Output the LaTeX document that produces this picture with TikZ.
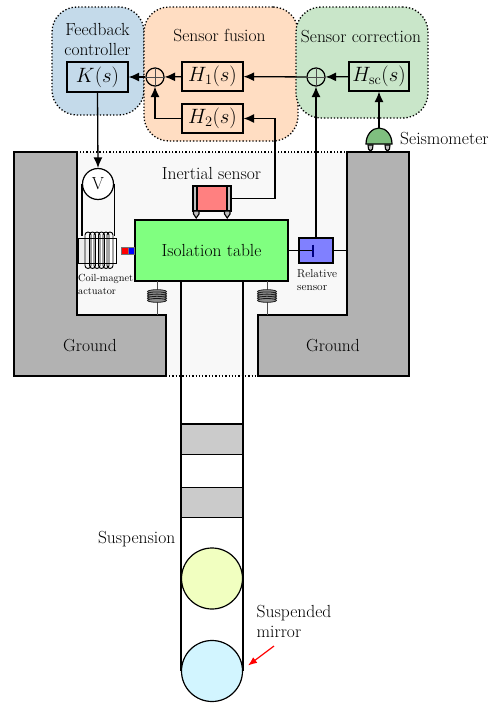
\documentclass[tikz,border=0pt]{standalone}
\usetikzlibrary{arrows.meta,shapes.geometric}
\definecolor{fbblue}{HTML}{C4DAEA}
\definecolor{fusorange}{HTML}{FFDDC2}
\definecolor{corgreen}{HTML}{C9E6C9}
\definecolor{groundgray}{HTML}{B2B2B2}
\definecolor{bggray}{HTML}{F8F8F8}
\definecolor{tablegreen}{HTML}{80FF80}
\definecolor{sensred}{HTML}{FF8080}
\definecolor{relblue}{HTML}{8080FF}
\definecolor{blockgray}{HTML}{CBCBCB}
\definecolor{stageyellow}{HTML}{F1FFC0}
\definecolor{mirrorblue}{HTML}{D2F5FF}
\definecolor{seisgreen}{HTML}{7FBF7F}
\tikzset{
  region/.style={draw=black,line width=1.3pt,dotted,rounded corners=25pt,inner sep=0pt},
  block/.style={draw=black,line width=1.2pt,inner sep=0pt,minimum height=30pt,font=\fontsize{22.5}{25}\selectfont},
  sumc/.style={circle,draw=black,line width=1.2pt,minimum size=18pt,inner sep=0pt},
  conn/.style={line width=1.3pt,-{Latex[length=10.5pt,width=9pt]}},
  wire/.style={line width=1.2pt},
  label/.style={font=\fontsize{17.5}{20}\selectfont,align=center,inner sep=0pt,text=black},
  tiny/.style={font=\fontsize{11.4}{13}\selectfont,align=left,inner sep=0pt,text=black},
  solidbox/.style={draw=black,line width=1.2pt,inner sep=0pt},
  springloop/.style={draw=black!90,line width=.8pt}
}
\newcommand{\spring}[2]{%
  \foreach \dy in {0,2.2,4.4,6.6,8.8}{\draw[springloop,fill=black!45] (#1,#2-4.4+\dy) ellipse (9.5pt and 1.9pt);}}
\begin{document}
\begin{tikzpicture}[x=1pt,y=-1pt]
\useasboundingbox (0,0) rectangle (490,704);
% plant background
\node[draw=black,line width=1.3pt,dotted,fill=bggray,minimum width=395pt,minimum height=224pt,inner sep=0pt] (bg) at (211.5,264) {};
% ground
\draw[fill=groundgray,line width=1.2pt] (14,152) -- (77,152) -- (77,315) -- (166,315) -- (166,376) -- (14,376) -- cycle;
\draw[fill=groundgray,line width=1.2pt] (347,152) -- (409,152) -- (409,376) -- (258,376) -- (258,315) -- (347,315) -- cycle;
\node[label] (g1) at (90,346) {Ground};
\node[label] (g2) at (333,346) {Ground};
% regions
\node[region,fill=fbblue,minimum width=92pt,minimum height=108pt] (rfb) at (98,61) {};
\node[region,fill=fusorange,minimum width=154pt,minimum height=134pt] (rfus) at (221,74) {};
\node[region,fill=corgreen,minimum width=132pt,minimum height=111pt] (rcor) at (362,62.5) {};
\node[label] (tfb) at (97.5,39) {Feedback\\controller};
\node[label] (tfus) at (219.5,35.5) {Sensor fusion};
\node[label] (tcor) at (361,37) {Sensor correction};
% blocks
\node[block,minimum width=61pt,fill=fbblue] (K) at (97.5,77) {$K(s)$};
\node[sumc] (s1) at (155,77) {};
\draw[line width=.6pt,black!70] (s1.west) -- (s1.east) (s1.north) -- (s1.south);
\node[block,minimum width=61pt,minimum height=29pt] (H1) at (212.5,76.5) {$H_1(s)$};
\node[block,minimum width=61pt,minimum height=29pt] (H2) at (212.5,118.5) {$H_2(s)$};
\node[sumc] (s2) at (316,77) {};
\draw[line width=.6pt,black!70] (s2.west) -- (s2.east) (s2.north) -- (s2.south);
\node[block,minimum width=60pt,minimum height=29pt] (Hsc) at (379,76.5) {$H_{\mathrm{sc}}(s)$};
% table and hardware
\node[draw=black,line width=1.2pt,fill=tablegreen,minimum width=153pt,minimum height=61pt,inner sep=0pt,font=\fontsize{17.5}{20}\selectfont] (table) at (211.5,250.5) {Isolation table};
\node[solidbox,fill=relblue,minimum width=34pt,minimum height=25pt] (rel) at (316,250.5) {};
\coordinate (bar) at (313,250.5);
\draw[wire] (table.east |- bar) -- (bar);
\draw[line width=1.2pt,blue!50!black] (bar) ++(0,-6) -- ++(0,12);
\draw[wire] (rel.east) -- (347,250.5);
\node[tiny,anchor=north west] (trel) at (297,269.5) {Relative\\sensor};
% inertial sensor
\draw[wire,fill=black!25] (193,186) rectangle (197,211);
\draw[wire,fill=black!25] (227,186) rectangle (231,211);
\node[solidbox,fill=sensred,minimum width=30pt,minimum height=25pt] (iner) at (212,198.5) {};
\draw[line width=1.1pt,fill=black!25] (193.5,211) -- (199,211) -- (199,214) -- (196.2,218) -- (193.5,214) -- cycle;
\draw[line width=1.1pt,fill=black!25] (224.5,211) -- (230,211) -- (230,214) -- (227.2,218) -- (224.5,214) -- cycle;
\node[label] (tiner) at (211.5,173) {Inertial sensor};
% voltage source and coil
\node[circle,draw=black,line width=1.2pt,fill=white,minimum size=31pt,inner sep=0pt,font=\fontsize{17.5}{20}\selectfont] (V) at (98,184) {V};
\draw[wire] (V.west) -- (V.west |- 0,236);
\draw[wire] (V.east) -- (V.east |- 0,236);
\node[draw=black,line width=1pt,fill=white,minimum width=38pt,minimum height=25pt,inner sep=0pt] (coil) at (97,250.5) {};
\fill[black!7] (78.5,238.5) rectangle (92,262.5);
\draw[line width=1pt] (78,238) rectangle (116,263);
\foreach \cx in {88,92.5,97,101.5,106,110}{\draw[line width=.9pt,rounded corners=3pt] (\cx-3,232) rectangle (\cx+3,268.5);}
\node[tiny,font=\fontsize{10.3}{13}\selectfont,anchor=north west] (tcoil) at (78,274) {Coil-magnet\\actuator};
% magnet
\draw[line width=1pt,black!55,fill=red] (121.5,247) rectangle (128,254.5);
\draw[line width=1pt,black!55,fill=blue] (128,247) rectangle (134.5,254.5);
% springs
\draw[line width=.9pt,black!70] (157,281) -- (157,315);
\draw[line width=.9pt,black!70] (267,281) -- (267,315);
\spring{157}{296}
\spring{267}{296}
% seismometer
\draw[line width=1.1pt,fill=black!25] (368,145) -- (373,145) -- (372.5,149) -- (370.5,151) -- (368.5,149) -- cycle;
\draw[line width=1.1pt,fill=black!25] (385,145) -- (390,145) -- (389.5,149) -- (387.5,151) -- (385.5,149) -- cycle;
\draw[line width=1.2pt,fill=seisgreen] (366,144) arc (180:0:13pt and 16pt) -- cycle;
\coordinate (seis) at (379,128);
\node[label,anchor=west] (tseis) at (400,139) {Seismometer};
% suspension
\draw[line width=1.2pt] (181,281) -- (181,670.5);
\draw[line width=1.2pt] (243,281) -- (243,670.5);
\node[draw=black,line width=1.2pt,fill=blockgray,minimum width=62pt,minimum height=30.5pt,inner sep=0pt] (b1) at (212,439.3) {};
\node[draw=black,line width=1.2pt,fill=blockgray,minimum width=62pt,minimum height=30.5pt,inner sep=0pt] (b2) at (212,502.5) {};
\node[circle,draw=black,line width=1.2pt,fill=stageyellow,minimum size=61pt,inner sep=0pt] (stage) at (212,578.5) {};
\node[circle,draw=black,line width=1.2pt,fill=mirrorblue,minimum size=61pt,inner sep=0pt] (mirror) at (212,671) {};
\node[label,anchor=east] (tsus) at (175.5,539) {Suspension};
\node[label,align=left,anchor=west] (tmir) at (256.5,621) {Suspended\\mirror};
\coordinate (redtail) at (274,646);
\coordinate (redtip) at (248,665.5);
\draw[line width=1.2pt,red,-{Latex[length=9pt,width=7pt]}] (redtail) -- (redtip);
% connectors
\draw[conn] (s1) -- (K);
\draw[conn] (H1) -- (s1);
\draw[conn] (s2) -- (H1);
\draw[conn] (Hsc) -- (s2);
\draw[conn] (H2.west) -| (s1.south);
\draw[conn] (K.south) -- (V.north);
\draw[conn] (iner.east -| 231,198.5) -- (275,198.5) |- (H2.east);
\draw[conn] (rel.north -| s2) -- (s2.south);
\draw[conn] (seis) -- (Hsc.south);
\end{tikzpicture}
\end{document}
